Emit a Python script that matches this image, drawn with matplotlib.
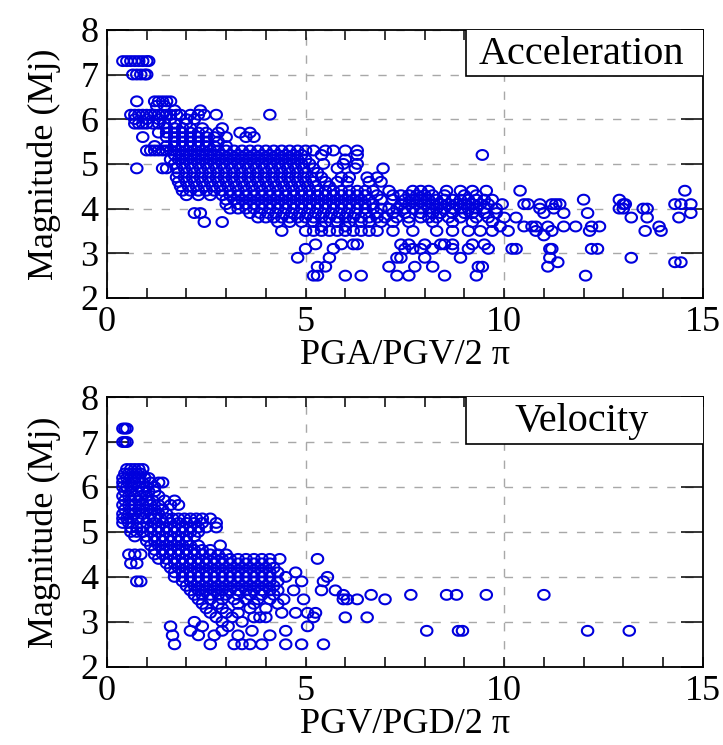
import numpy as np
import matplotlib
matplotlib.use('Agg')
import matplotlib.pyplot as plt
from matplotlib.path import Path
from matplotlib.patches import Rectangle
from matplotlib.ticker import MultipleLocator

plt.rcParams['font.family'] = ['Liberation Serif', 'DejaVu Serif']

# magnitude levels (Mj) and the ratio values read at each level
acc_levels = [7.3, 7.0, 6.4, 6.3, 6.2, 6.1, 6.0, 5.9, 5.8, 5.7, 5.6, 5.5, 5.4, 5.3,
              5.2, 5.1, 5.0, 4.9, 4.8, 4.7, 4.6, 4.5, 4.4, 4.3, 4.2, 4.1, 4.0,
              3.9, 3.8, 3.7, 3.6, 3.5, 3.4, 3.2, 3.1, 2.9, 2.8, 2.7, 2.5]
acc_ratio = [
    [0.4, 0.5, 0.6, 0.7, 0.8, 0.9, 1.0, 1.05],
    [0.65, 0.75, 0.85, 0.95, 1.0],
    [0.75, 1.2, 1.3, 1.4, 1.5, 1.6],
    [1.25, 1.45],
    [1.7, 2.35],
    [0.6, 0.7, 0.8, 0.9, 1.0, 1.1, 1.2, 1.3, 1.4, 1.5, 1.6, 1.75, 1.85, 2.1, 2.3, 2.45, 2.75, 4.1],
    [0.7, 1.0, 1.3, 1.6, 2.0, 2.2],
    [0.7, 0.8, 0.9, 1.0, 1.15, 1.3, 1.45, 1.7, 2.0],
    [1.5, 1.7, 1.9, 2.1, 2.4, 2.9],
    [1.3, 1.5, 1.7, 1.9, 2.1, 2.3, 2.5, 2.8, 3.35, 3.6],
    [0.9, 1.5, 1.7, 1.9, 2.1, 2.3, 2.5, 2.7, 3.0, 3.5, 3.7],
    [1.7, 1.9, 2.1, 2.3, 2.5, 2.8],
    [1.2, 1.5, 1.7, 1.9, 2.1, 2.3, 2.5, 2.7, 3.0],
    [1.0, 1.1, 1.2, 1.3, 1.4, 1.5, 1.6, 1.8, 2.0, 2.2, 2.4, 2.6, 2.8, 3.0, 3.2, 3.4, 3.6,
     3.8, 4.0, 4.2, 4.4, 4.6, 4.8, 5.0, 5.2, 5.5, 5.7, 6.0, 6.3],
    [1.7, 1.9, 2.1, 2.3, 2.5, 2.7, 2.9, 3.1, 3.3, 3.5, 3.7, 3.9, 4.1, 4.3, 4.5, 4.7, 4.9,
     5.4, 6.3, 9.45],
    [1.6, 1.8, 2.0, 2.2, 2.4, 2.6, 2.8, 3.0, 3.2, 3.4, 3.6, 3.8, 4.0, 4.2, 4.4, 4.6, 4.8,
     5.0, 6.0],
    [1.7, 1.9, 2.1, 2.3, 2.5, 2.7, 2.9, 3.1, 3.3, 3.5, 3.7, 3.9, 4.1, 4.3, 4.5, 4.7, 4.9,
     5.1, 5.45, 5.95, 6.3],
    [0.75, 1.4, 1.5, 1.75, 1.95, 2.15, 2.35, 2.55, 2.75, 2.95, 3.15, 3.35, 3.55, 3.75, 3.95,
     4.15, 4.35, 4.55, 4.75, 4.95, 5.2, 5.8, 6.25, 6.95],
    [1.8, 2.0, 2.2, 2.4, 2.6, 2.8, 3.0, 3.2, 3.4, 3.6, 3.8, 4.0, 4.2, 4.4, 4.6, 4.8, 5.0, 5.3],
    [1.75, 1.95, 2.15, 2.35, 2.55, 2.75, 2.95, 3.15, 3.35, 3.55, 3.75, 3.95, 4.15, 4.35,
     4.55, 4.75, 4.95, 5.15, 5.4, 5.9, 6.1, 6.55, 6.8],
    [1.8, 2.0, 2.2, 2.4, 2.6, 2.8, 3.0, 3.2, 3.4, 3.6, 3.8, 4.0, 4.2, 4.4, 4.6, 4.8, 5.0,
     5.2, 5.5, 5.8, 6.05, 6.6, 6.9],
    [1.85, 2.05, 2.25, 2.45, 2.65, 2.85, 3.05, 3.25, 3.45, 3.65, 3.85, 4.05, 4.25, 4.45,
     4.65, 4.85, 5.05, 5.25, 5.6],
    [1.9, 2.1, 2.3, 2.5, 2.7, 2.9, 3.1, 3.3, 3.5, 3.7, 3.9, 4.1, 4.3, 4.5, 4.7, 4.9, 5.1,
     5.3, 5.5, 5.7, 5.9, 6.1, 6.3, 6.5, 6.7, 7.1, 7.7, 7.9, 8.1, 8.55, 8.9, 9.2, 9.55,
     10.4, 14.55],
    [2.0, 2.3, 2.6, 2.9, 3.1, 3.3, 3.5, 3.7, 3.9, 4.1, 4.3, 4.5, 4.7, 4.9, 5.1, 5.3, 5.5,
     5.7, 5.9, 6.1, 6.3, 6.5, 6.8, 7.2, 7.4, 7.6, 7.8, 8.0, 8.2, 8.5, 9.0, 9.3],
    [3.0, 3.2, 3.4, 3.6, 3.8, 4.0, 4.2, 4.4, 4.6, 4.8, 5.0, 5.2, 5.4, 5.6, 5.8, 6.0, 6.2,
     6.4, 6.6, 6.9, 7.2, 7.5, 7.7, 7.9, 8.1, 8.3, 8.5, 8.7, 8.9, 9.1, 9.3, 9.5, 9.7,
     12.0, 12.9],
    [3.0, 3.3, 3.5, 3.7, 3.9, 4.1, 4.3, 4.5, 4.7, 4.9, 5.1, 5.3, 5.5, 5.7, 5.9, 6.1, 6.3,
     6.5, 6.7, 7.4, 7.6, 7.8, 8.0, 8.2, 8.4, 8.6, 8.8, 9.0, 9.2, 9.4, 9.6, 9.95, 10.5,
     10.6, 10.9, 11.2, 11.3, 11.4, 13.0, 13.05, 14.3, 14.45, 14.7],
    [3.1, 3.3, 3.5, 3.7, 3.9, 4.1, 4.3, 4.5, 4.7, 4.9, 5.1, 5.3, 5.5, 5.7, 5.9, 6.1, 6.3,
     6.5, 6.7, 6.9, 7.1, 7.3, 7.5, 7.7, 7.9, 8.1, 8.3, 8.5, 8.7, 8.9, 9.1, 9.3, 9.5, 9.8,
     10.9, 11.25, 12.9, 13.0, 13.5, 13.6],
    [2.2, 2.35, 3.6, 3.85, 4.05, 4.25, 4.45, 4.65, 4.85, 5.05, 5.25, 5.45, 5.65, 5.85,
     6.05, 6.25, 6.5, 6.8, 7.2, 7.5, 7.9, 8.2, 8.4, 8.7, 9.0, 9.2, 9.5, 9.8, 11.0, 11.5,
     12.1, 14.7],
    [3.8, 4.0, 4.2, 4.4, 4.6, 4.8, 5.0, 5.2, 5.4, 5.6, 5.8, 6.0, 6.2, 6.4, 6.6, 6.8, 7.0,
     7.3, 7.6, 7.9, 8.1, 8.3, 8.6, 8.9, 9.3, 9.6, 10.0, 10.3, 13.2, 13.6, 14.4],
    [2.45, 2.9, 4.3, 4.6, 4.9, 5.2, 5.5, 5.8, 6.1, 6.4, 6.6, 6.9, 7.2, 7.6, 8.2, 8.7, 9.2, 9.7],
    [5.4, 6.0, 9.9, 10.5, 10.7, 10.8, 11.1, 11.5, 11.8, 12.2, 12.4, 13.9],
    [4.4, 5.0, 5.2, 5.4, 5.6, 5.8, 6.0, 6.2, 6.4, 6.6, 6.8, 7.2, 7.7, 8.3, 8.7, 9.1, 9.4,
     9.7, 10.1, 10.8, 11.2, 12.15, 13.55, 13.95],
    [11.0],
    [5.25, 5.9, 6.2, 6.3, 7.4, 7.6, 8.0, 8.4, 8.5, 8.7, 9.2, 9.5],
    [5.0, 5.7, 7.5, 7.7, 7.9, 8.2, 8.7, 9.1, 9.6, 10.2, 10.3, 11.15, 11.2, 12.2, 12.35],
    [4.8, 5.6, 7.3, 7.4, 8.0, 8.9, 11.15, 13.2],
    [11.35, 14.3, 14.45],
    [5.3, 5.5, 7.1, 7.75, 8.2, 9.35, 9.45, 11.1],
    [5.2, 5.3, 6.0, 6.4, 7.3, 7.6, 8.5, 9.3, 12.05],
]

vel_levels = [7.3, 7.0, 6.4, 6.3, 6.2, 6.1, 6.0, 5.9, 5.8, 5.7, 5.6, 5.5, 5.4, 5.3,
              5.2, 5.1, 5.0, 4.9, 4.8, 4.7, 4.6, 4.5, 4.4, 4.3, 4.2, 4.1, 4.0, 3.9,
              3.8, 3.7, 3.6, 3.5, 3.4, 3.3, 3.2, 3.1, 3.0, 2.9, 2.8, 2.7, 2.5]
vel_ratio = [
    [0.4, 0.45, 0.5],
    [0.4, 0.45, 0.5],
    [0.5, 0.6, 0.7, 0.8, 0.9],
    [0.45, 0.55, 0.65, 0.75, 0.85],
    [0.4, 0.5, 0.6, 0.7, 0.8, 0.95, 1.05],
    [0.4, 0.55, 0.7, 0.9, 1.1, 1.3, 1.4],
    [0.4, 0.5, 0.6, 0.8, 1.0, 1.2],
    [0.45, 0.6, 0.75, 0.9, 1.05, 1.2],
    [0.4, 0.55, 0.7, 0.85, 1.0, 1.3],
    [0.45, 0.6, 0.8, 1.0, 1.15, 1.45, 1.7],
    [0.4, 0.55, 0.7, 0.9, 1.1, 1.3, 1.6, 1.8],
    [0.45, 0.6, 0.8, 1.0, 1.2, 1.4],
    [0.4, 0.55, 0.7, 0.9, 1.1, 1.3, 1.5],
    [0.4, 0.5, 0.6, 0.75, 0.9, 1.05, 1.2, 1.35, 1.5, 1.65, 1.8, 1.95, 2.1, 2.25, 2.4, 2.6],
    [0.4, 0.55, 1.0, 1.2, 1.4, 1.6, 1.8, 2.0, 2.2, 2.4, 2.75],
    [0.6, 0.75, 0.9, 1.1, 1.3, 1.5, 1.7, 1.9, 2.1, 2.3, 2.5, 2.75],
    [0.6, 0.75, 0.9, 1.1, 1.3, 1.5, 1.7, 1.9, 2.1, 2.3],
    [0.7, 1.0, 1.2, 1.4, 1.6, 1.8, 2.0, 2.2],
    [1.0, 1.2, 1.4, 1.6, 1.8, 2.0],
    [1.1, 1.3, 1.5, 1.7, 1.9, 2.1, 2.3, 2.85],
    [1.2, 1.4, 1.6, 1.8, 2.0, 2.2, 2.4, 2.6],
    [0.55, 0.7, 0.85, 1.2, 1.4, 1.6, 1.8, 2.0, 2.2, 2.4, 2.6, 2.8, 3.0],
    [1.3, 1.5, 1.7, 1.9, 2.1, 2.3, 2.5, 2.7, 2.9, 3.1, 3.3, 3.5, 3.7, 3.9, 4.1, 4.35, 5.3],
    [0.6, 0.75, 1.5, 1.7, 1.9, 2.1, 2.3, 2.5, 2.7, 2.9, 3.1, 3.3, 3.5, 3.7, 3.9, 4.1],
    [1.6, 1.8, 2.0, 2.2, 2.4, 2.6, 2.8, 3.0, 3.2, 3.4, 3.6, 3.8, 4.0, 4.2],
    [1.7, 1.9, 2.1, 2.3, 2.5, 2.7, 2.9, 3.1, 3.3, 3.5, 3.7, 3.9, 4.1, 4.3, 4.75],
    [1.7, 1.9, 2.1, 2.3, 2.5, 2.7, 2.9, 3.1, 3.3, 3.5, 3.7, 3.9, 4.1, 4.5, 5.55],
    [0.75, 0.85, 1.9, 2.1, 2.3, 2.5, 2.7, 2.9, 3.1, 3.3, 3.5, 3.7, 3.9, 4.1, 4.3, 4.9, 5.45],
    [2.0, 2.2, 2.4, 2.6, 2.8, 3.0, 3.2, 3.4, 3.6, 3.8, 4.0, 4.2],
    [2.1, 2.3, 2.5, 2.7, 2.9, 3.1, 3.3, 3.5, 3.7, 3.9, 4.1, 4.3, 4.7, 5.4, 5.75],
    [2.2, 2.4, 2.6, 2.8, 3.0, 3.3, 3.6, 3.9, 4.2, 5.95, 6.65, 7.65, 8.55, 8.8, 9.55, 11.0],
    [2.3, 2.6, 2.9, 3.2, 3.5, 3.8, 4.1, 4.45, 4.95, 5.95, 6.05, 6.3, 7.0],
    [2.4, 2.8, 3.3, 3.7, 4.3],
    [2.5, 2.9, 3.6, 4.0],
    [2.6, 3.0, 3.3, 4.4, 4.75, 5.05, 5.25],
    [2.75, 3.15, 3.7, 3.85, 4.0, 5.2, 6.0, 6.55],
    [2.2, 2.9, 3.4],
    [1.6, 2.4, 3.05, 5.05],
    [2.1, 2.9, 3.65, 4.5, 8.05, 8.85, 8.95, 12.1, 13.15],
    [1.65, 2.3, 2.7, 3.3, 4.1],
    [1.7, 2.6, 3.2, 3.4, 3.6, 3.9, 4.5, 4.9, 5.45],
]

panels = [
    (acc_levels, acc_ratio, 'PGA/PGV/2 π', 'Acceleration'),
    (vel_levels, vel_ratio, 'PGV/PGD/2 π', 'Velocity'),
]

# slightly flattened ring, like the original markers
t = np.linspace(0, 2 * np.pi, 41)
ring = Path(np.column_stack([np.cos(t), 0.86 * np.sin(t)]), closed=True)

fig = plt.figure(figsize=(7.23, 7.45), dpi=100)
boxes = [[0.148, 0.600, 0.824, 0.360], [0.148, 0.105, 0.824, 0.362]]

for rect, (levels, ratio, xlabel, name) in zip(boxes, panels):
    ax = fig.add_axes(rect)
    xs, ys = [], []
    for m, row in zip(levels, ratio):
        xs.extend(row)
        ys.extend([m] * len(row))
    ax.scatter(xs, ys, s=68, marker=ring, facecolors='none',
               edgecolors='#0000dd', linewidths=1.5, zorder=3)

    ax.set_xlim(0, 15)
    ax.set_ylim(2, 8)
    ax.xaxis.set_major_locator(MultipleLocator(5))
    ax.xaxis.set_minor_locator(MultipleLocator(1))
    ax.yaxis.set_major_locator(MultipleLocator(1))
    ax.tick_params(which='both', direction='in', top=True, right=True,
                   width=1.1, labelsize=26, pad=6)
    ax.tick_params(axis='x', which='both', length=7.5)
    ax.tick_params(axis='y', which='both', length=16)
    for sp in ax.spines.values():
        sp.set_linewidth(1.3)
    ax.grid(True, which='major', color='#a8a8a8', linewidth=1.0,
            linestyle=(0, (6, 7)), zorder=1)

    ax.set_xlabel(xlabel, fontsize=26, labelpad=0)
    ax.set_ylabel('Magnitude (Mj)', fontsize=26, labelpad=14)

    ax.add_patch(Rectangle((0.603, 0.826), 0.40, 0.18, transform=ax.transAxes,
                           facecolor='white', edgecolor='black', linewidth=1.2,
                           zorder=4, clip_on=True))
    ax.text(0.797, 0.908, name, transform=ax.transAxes, ha='center', va='center',
            fontsize=29, zorder=5)

fig.savefig('out.png', dpi=100)
